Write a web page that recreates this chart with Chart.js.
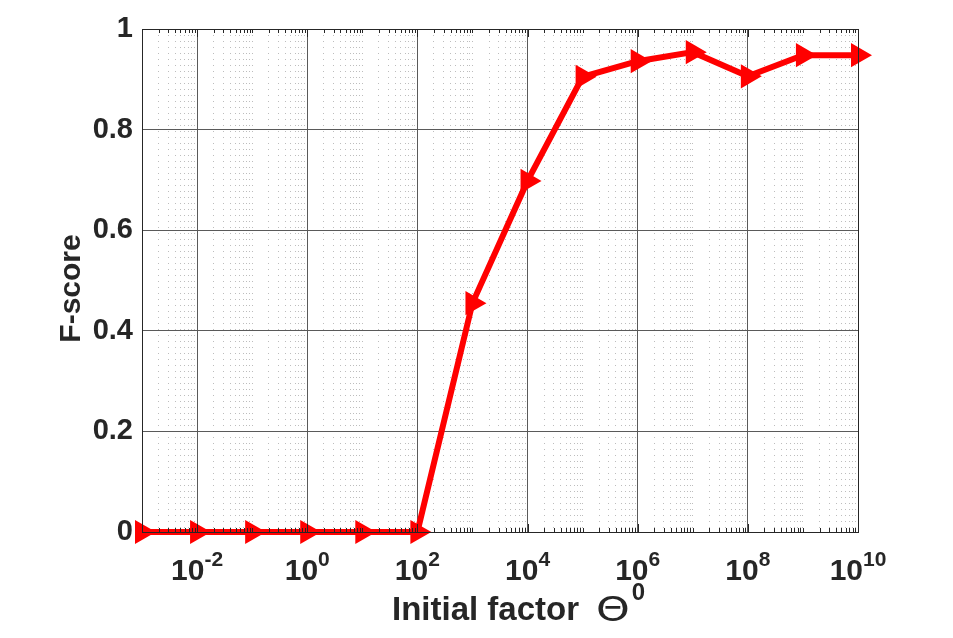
<!DOCTYPE html>
<html>
<head>
<meta charset="utf-8">
<script src="https://cdn.jsdelivr.net/npm/chart.js@4.4.1/dist/chart.umd.min.js"></script>
<style>
  html, body { margin: 0; padding: 0; background: #fff; }
  #wrap { width: 953px; height: 638px; }
</style>
</head>
<body>
<div id="wrap"><canvas id="chart"></canvas></div>
<script>
// data
var xValues = [1e-3, 1e-2, 1e-1, 1e0, 1e1, 1e2, 1e3, 1e4, 1e5, 1e6, 1e7, 1e8, 1e9, 1e10];
var fScores = [0, 0, 0, 0, 0, 0, 0.455, 0.698, 0.905, 0.936, 0.954, 0.906, 0.948, 0.948];
var xMajorExps = [-2, 0, 2, 4, 6, 8, 10];
var yTicks = [0, 0.2, 0.4, 0.6, 0.8, 1];

var textColor = '#262626';
var fontFamily = '"Liberation Sans", Arial, Helvetica, sans-serif';

function isMajor(v) {
  var e = Math.log10(v);
  return Math.abs(e - Math.round(e)) < 1e-9 && Math.round(e) % 2 === 0;
}

// box + x tick labels (10 with exponent) + axis titles
var decorPlugin = {
  id: 'decor',
  afterDraw: function(chart) {
    var ctx = chart.ctx;
    var a = chart.chartArea;
    var xs = chart.scales.x;
    ctx.save();
    ctx.strokeStyle = '#262626';
    ctx.lineWidth = 1;
    ctx.strokeRect(a.left + 0.5, a.top + 0.5, a.right - a.left, a.bottom - a.top);

    // inward minor/major ticks on top and bottom
    xs.ticks.forEach(function(t) {
      var px = Math.round(xs.getPixelForValue(t.value)) + 0.5;
      var len = isMajor(t.value) ? 8 : 4;
      ctx.beginPath();
      ctx.moveTo(px, a.bottom); ctx.lineTo(px, a.bottom - len);
      ctx.moveTo(px, a.top); ctx.lineTo(px, a.top + len);
      ctx.stroke();
    });

    ctx.fillStyle = textColor;
    ctx.textBaseline = 'alphabetic';
    xMajorExps.forEach(function(e) {
      var px = xs.getPixelForValue(Math.pow(10, e));
      ctx.font = 'bold 30px ' + fontFamily;
      var w1 = ctx.measureText('10').width;
      var sup = e < 0 ? '-' + Math.abs(e) : String(e);
      ctx.font = 'bold 21px ' + fontFamily;
      var w2 = ctx.measureText(sup).width;
      var x0 = px - (w1 + w2) / 2;
      ctx.textAlign = 'left';
      ctx.font = 'bold 30px ' + fontFamily;
      ctx.fillText('10', x0, 580);
      ctx.font = 'bold 21px ' + fontFamily;
      ctx.fillText(sup, x0 + w1, 566);
    });

    // x title
    var sx = (a.left + a.right) / 2 - 108;
    ctx.font = 'bold 33px ' + fontFamily;
    ctx.fillText('Initial factor', sx, 620);
    ctx.save();
    ctx.translate(sx + 204, 621);
    ctx.scale(1.3, 1);
    ctx.font = '33px "DejaVu Sans", sans-serif';
    ctx.fillText('\u0398', 0, 0);
    var wt = ctx.measureText('\u0398').width * 1.3;
    ctx.restore();
    ctx.font = 'bold 24px ' + fontFamily;
    ctx.fillText('0', sx + 204 + wt + 2, 600);

    // y title
    ctx.save();
    ctx.translate(80, (a.top + a.bottom) / 2 + 8);
    ctx.rotate(-Math.PI / 2);
    ctx.textAlign = 'center';
    ctx.font = 'bold 30px ' + fontFamily;
    ctx.fillText('F-score', 0, 0);
    ctx.restore();
    ctx.restore();
  }
};

new Chart(document.getElementById('chart'), {
  type: 'line',
  data: {
    datasets: [{
      data: xValues.map(function(x, i) { return { x: x, y: fScores[i] }; }),
      borderColor: '#ff0000',
      backgroundColor: '#ff0000',
      borderWidth: 6,
      pointStyle: 'triangle',
      pointRotation: 90,
      pointRadius: 11,
      pointBorderWidth: 3,
      tension: 0,
      clip: false
    }]
  },
  options: {
    responsive: true,
    maintainAspectRatio: false,
    animation: false,
    layout: { padding: { left: 0, right: 95, top: 29, bottom: 0 } },
    plugins: { legend: { display: false }, tooltip: { enabled: false } },
    scales: {
      x: {
        type: 'logarithmic',
        min: 1e-3,
        max: 1e10,
        afterBuildTicks: function(scale) {
          var t = [];
          for (var e = -3; e < 10; e++) {
            for (var k = 1; k <= 9; k++) t.push({ value: k * Math.pow(10, e) });
          }
          t.push({ value: 1e10 });
          scale.ticks = t;
        },
        afterFit: function(scale) { scale.height = 106; },
        ticks: { display: false, autoSkip: false },
        grid: {
          drawTicks: false,
          lineWidth: 1,
          color: function(c) {
            if (!c.tick) return 'rgba(0,0,0,0)';
            return isMajor(c.tick.value) ? '#5a5a5a' : '#bdbdbd';
          }
        },
        border: {
          display: false,
          dash: function(c) {
            if (!c.tick) return [];
            return isMajor(c.tick.value) ? [] : [1, 5];
          }
        }
      },
      y: {
        type: 'linear',
        min: 0,
        max: 1,
        afterBuildTicks: function(scale) {
          scale.ticks = yTicks.map(function(v) { return { value: v }; });
        },
        afterFit: function(scale) { scale.width = 142; },
        ticks: {
          color: textColor,
          padding: 9,
          font: { family: fontFamily, size: 29, weight: 'bold' },
          callback: function(v) { return String(v); }
        },
        grid: { drawTicks: false, color: '#5a5a5a', lineWidth: 1 },
        border: { display: false }
      }
    }
  },
  plugins: [decorPlugin]
});
</script>
</body>
</html>
